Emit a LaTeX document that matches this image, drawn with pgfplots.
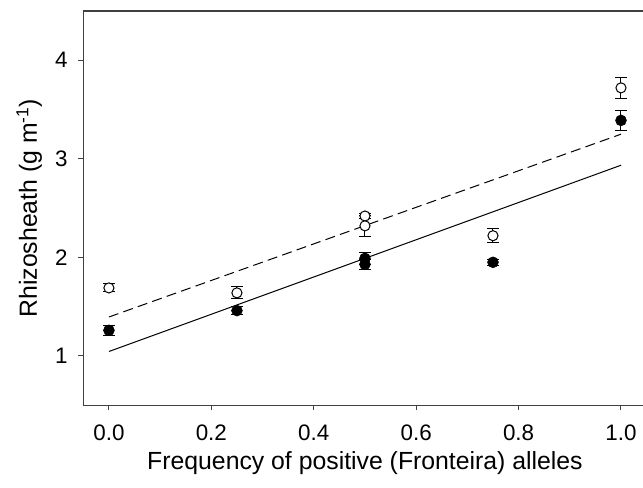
\documentclass[border=0pt]{standalone}
\usepackage{fontspec}
\setmainfont{Liberation Sans}
\usepackage{pgfplots}
\pgfplotsset{compat=1.18}

% filled symbols: first set; open symbols: second set
\pgfplotstableread{
x    y     e
0.00 1.26  0.05
0.25 1.46  0.04
0.50 1.99  0.06
0.50 1.93  0.05
0.75 1.95  0.03
1.00 3.39  0.10
}\filled
\pgfplotstableread{
x    y     e
0.00 1.69  0.04
0.25 1.64  0.06
0.50 2.42  0.03
0.50 2.32  0.11
0.75 2.22  0.07
1.00 3.72  0.105
}\open

\begin{document}
\begin{tikzpicture}
\begin{axis}[
  scale only axis,
  width=422.5pt, height=295.7pt,
  xmin=-0.05, xmax=1.05,
  ymin=0.5, ymax=4.5,
  xtick={0,0.2,0.4,0.6,0.8,1.0},
  ytick={1,2,3,4},
  /pgf/number format/assume math mode=true,
  axis x line*=bottom, axis y line*=left,
  axis line style={line width=0.9pt, black!75, -},
  tick align=outside,
  major tick length=3.75pt,
  tick style={line width=0.75pt, black!75},
  tick label style={font=\fontsize{16.8}{20}\selectfont},
  xticklabel style={yshift=-7.5pt, /pgf/number format/.cd, fixed, fixed zerofill, precision=1},
  yticklabel style={xshift=-4.5pt},
  label style={font=\fontsize{18.6}{22}\selectfont},
  xlabel={Frequency of positive (Fronteira) alleles},
  ylabel={Rhizosheath (g m\textsuperscript{-1})},
  xlabel shift=1pt,
  ylabel shift=3pt,
  clip=false,
]
\coordinate (bl) at (rel axis cs:0,0);
\coordinate (tr) at (rel axis cs:1,1);
\draw[line width=0.9pt, black!75] (rel axis cs:0,1) -- (rel axis cs:1,1);

% regression lines
\addplot[black, line width=0.75pt, forget plot] coordinates {(0,1.045) (1,2.935)};
\addplot[black, line width=0.75pt, dash pattern=on 7.5pt off 4pt, forget plot] coordinates {(0,1.395) (1,3.25)};

% open circles
\addplot[only marks, mark=*, mark size=3.8pt,
  mark options={fill=white, draw=black, line width=0.75pt},
  error bars/.cd, y dir=both, y explicit,
  error bar style={line width=0.75pt, black},
  error mark options={line width=0.75pt, black, mark size=4.3pt, rotate=90}]
  table[x=x, y=y, y error=e] {\open};

% filled circles
\addplot[only marks, mark=*, mark size=4.1pt,
  mark options={fill=black, draw=black},
  error bars/.cd, y dir=both, y explicit,
  error bar style={line width=0.75pt, black},
  error mark options={line width=0.75pt, black, mark size=4.3pt, rotate=90}]
  table[x=x, y=y, y error=e] {\filled};
\end{axis}
\pgfresetboundingbox
\path[use as bounding box] ([xshift=-62.5pt, yshift=-62pt]bl) rectangle ([xshift=-2.7pt, yshift=8.25pt]tr);
\end{tikzpicture}
\end{document}
